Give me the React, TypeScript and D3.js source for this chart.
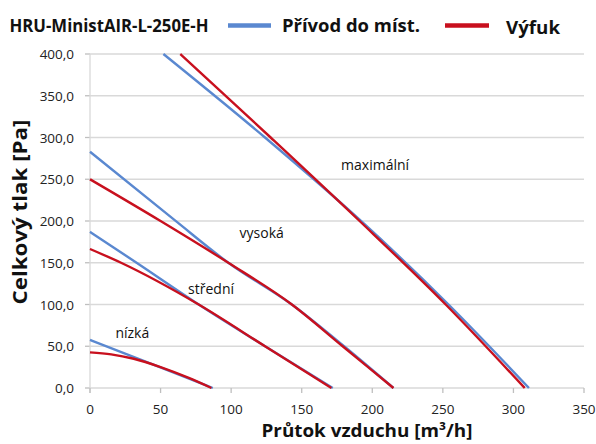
import React from "react";
import * as d3 from "d3";

// flow [m3/h], pressure [Pa]
const supplyMax = [[52, 400], [124, 300], [192, 200], [254, 100], [311, 0]];
const exhaustMax = [[64, 400], [128, 300], [191, 200], [252, 100], [308, 0]];
const supplyHigh = [[0, 283], [60, 201], [98, 150], [143, 100], [180, 50], [215, 0]];
const exhaustHigh = [[0, 250], [50, 200], [98, 150], [143, 100], [179, 50], [215, 0]];
const supplyMid = [[0, 187], [33, 150], [77, 100], [124, 50], [172, 0]];
const exhaustMid = [[0, 166.5], [22, 150], [77, 100], [124, 50], [171, 0]];
const supplyLow = [[0, 57.5], [44, 28.5], [87, 0]];
const exhaustLow = [[0, 42.7], [15, 40.3], [31, 35], [50, 25], [70, 12], [86, 0]];

const levelNames = ["maximální", "vysoká", "střední", "nízká"];
const levelAnchors = [[202, 261], [106, 180], [69.5, 113], [18, 60]];

const xTicks = [0, 50, 100, 150, 200, 250, 300, 350];
const yTicks = [0, 50, 100, 150, 200, 250, 300, 350, 400];

const title = "HRU-MinistAIR-L-250E-H";
const seriesNames = ["Přívod do míst.", "Výfuk"];
const BLUE = "#5a88d0";
const RED = "#c8101e";
const FONT = "'Open Sans', sans-serif";

export default function App() {
  const x = d3.scaleLinear().domain([0, 350]).range([90, 584]);
  const y = d3.scaleLinear().domain([0, 400]).range([388, 54]);
  const line = d3
    .line<number[]>()
    .x((d) => x(d[0]))
    .y((d) => y(d[1]))
    .curve(d3.curveMonotoneX);

  const blue = [supplyMax, supplyHigh, supplyMid, supplyLow];
  const red = [exhaustMax, exhaustHigh, exhaustMid, exhaustLow];

  return (
    <svg
      width={596}
      height={444}
      style={{ position: "absolute", left: 0, top: 0, background: "#fff" }}
      fontFamily={FONT}
    >
      {/* grid */}
      {yTicks.map((t) => (
        <g key={"gy" + t}>
          {t > 0 && <line x1={x(0)} x2={x(350)} y1={y(t)} y2={y(t)} stroke="#d9d9d9" strokeWidth={1.3} />}
          <line x1={x(0) - 5} x2={x(0)} y1={y(t)} y2={y(t)} stroke="#bfbfbf" strokeWidth={1.3} />
          <text x={74} y={y(t) + 5} textAnchor="end" fontSize={13.5} fill="#222">
            {d3.format(".1f")(t).replace(".", ",")}
          </text>
        </g>
      ))}
      <line x1={x(0)} x2={x(0)} y1={y(0) + 5} y2={y(400)} stroke="#d9d9d9" strokeWidth={1.3} />
      <line x1={x(0)} x2={x(350)} y1={y(0)} y2={y(0)} stroke="#d9d9d9" strokeWidth={1.3} />
      {xTicks.map((t) => (
        <g key={"gx" + t}>
          <line x1={x(t)} x2={x(t)} y1={y(0)} y2={y(0) + 5} stroke="#bfbfbf" strokeWidth={1.3} />
          <text x={x(t)} y={413.5} textAnchor="middle" fontSize={13.5} fill="#222">
            {t}
          </text>
        </g>
      ))}

      {/* curves */}
      {blue.map((s, i) => (
        <path key={"b" + i} d={line(s) || ""} fill="none" stroke={BLUE} strokeWidth={2.4} />
      ))}
      {red.map((s, i) => (
        <path key={"r" + i} d={line(s) || ""} fill="none" stroke={RED} strokeWidth={2.4} />
      ))}

      {levelNames.map((n, i) => (
        <text
          key={n}
          x={x(levelAnchors[i][0])}
          y={y(levelAnchors[i][1])}
          textAnchor={i === 0 ? "middle" : "start"}
          fontSize={14}
          fill="#111"
        >
          {n}
        </text>
      ))}

      {/* title + legend */}
      <text x={9.5} y={32} fontSize={17} fontWeight="bold" fill="#111" textLength={199} lengthAdjust="spacingAndGlyphs">
        {title}
      </text>
      <line x1={228} x2={271} y1={25.6} y2={25.6} stroke={BLUE} strokeWidth={4.5} />
      <text x={282} y={32} fontSize={18} fontWeight="bold" fill="#111" textLength={138} lengthAdjust="spacingAndGlyphs">
        {seriesNames[0]}
      </text>
      <line x1={445} x2={489} y1={25.6} y2={25.6} stroke={RED} strokeWidth={4.5} />
      <text x={506} y={34} fontSize={18} fontWeight="bold" fill="#111" textLength={54} lengthAdjust="spacingAndGlyphs">
        {seriesNames[1]}
      </text>

      {/* axis titles */}
      <text
        transform={`translate(27,${212}) rotate(-90)`}
        textAnchor="middle"
        fontSize={19}
        fontWeight="bold"
        fill="#111"
        textLength={185}
        lengthAdjust="spacingAndGlyphs"
      >
        Celkový tlak [Pa]
      </text>
      <text
        x={367}
        y={437}
        textAnchor="middle"
        fontSize={18}
        fontWeight="bold"
        fill="#111"
        textLength={211}
        lengthAdjust="spacingAndGlyphs"
      >
        Průtok vzduchu [m³/h]
      </text>
    </svg>
  );
}
